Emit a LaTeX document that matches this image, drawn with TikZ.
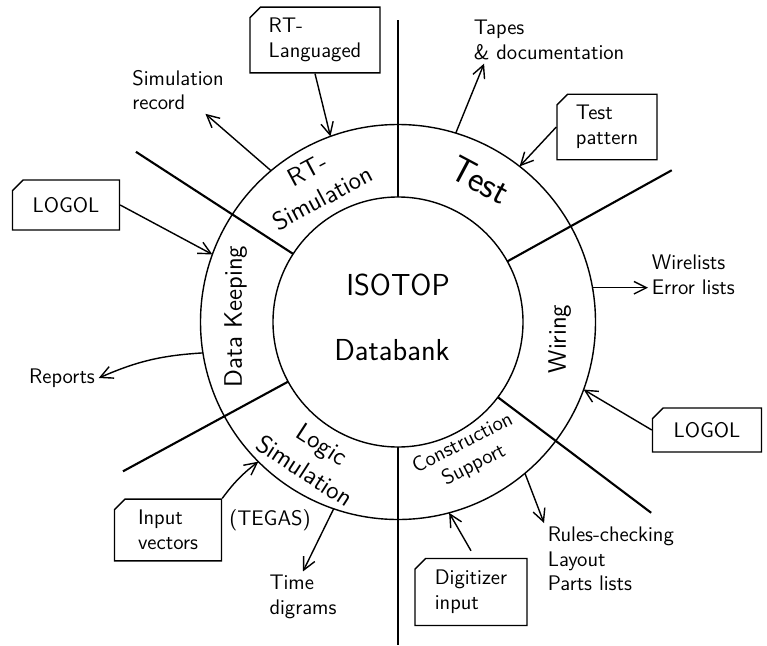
\documentclass[tikz,border=0pt]{standalone}
\usetikzlibrary{arrows.meta, positioning, shapes.misc}

\newcommand{\Rin}{2.5}
\newcommand{\Rout}{3.95}

\begin{document}
\begin{tikzpicture}[
		font=\sffamily,
		% ring and dividers
		ring/.style={thick},
		divider/.style={very thick},
		% texts
		ringlbl/.style={font=\Large\sffamily, align=center},
		centerlbl/.style={font=\LARGE\sffamily},
		outlbl/.style={font=\large\sffamily, align=left, inner sep=2pt},
		% input cards
		card/.style={chamfered rectangle, chamfered rectangle corners=north west, chamfered rectangle sep=3pt, draw, thick, font=\large\sffamily, align=left},
		flow/.style={-{Straight Barb[length=2.5mm, width=2.5mm]}, thick}
		]
		\useasboundingbox (-7.96,-6.46) rectangle (7.38,6.44);
		
		% --- DATABANK RING ---
		\coordinate (ctr) at (0,0);
		\draw[ring] (ctr) circle (\Rin);
		\draw[ring] (ctr) circle (\Rout);
		\foreach \a/\r in {90/6.04, 270/6.46, 147/6.25, 29/6.26, 208.5/6.26, -37/6.34}
			\draw[divider] (\a:\Rin) -- (\a:\r);
		
		\node[centerlbl] (iso) at (0,0.74) {ISOTOP};
		\node[centerlbl] (bank) at (-0.12,-0.56) {Databank};
		
		% ring sections
		\node[ringlbl, rotate=28] (rtsim) at (121:3.22) {RT-\\Simulation};
		\node[ringlbl, font=\huge\sffamily, rotate=-28] (test) at (60:3.28) {Test};
		\node[ringlbl, rotate=90] (wiring) at (-6:3.25) {Wiring};
		\node[ringlbl, font=\large\sffamily, rotate=27] (constr) at (-62:3.0) {Construction\\Support};
		\node[ringlbl, rotate=-33] (logsim) at (-122:3.2) {Logic\\Simulation};
		\node[ringlbl, rotate=90] (datakeep) at (178:3.25) {Data Keeping};
		
		% points on the outer circle
		\coordinate (pRtl) at (110:\Rout);
		\coordinate (pSim) at (130:\Rout);
		\coordinate (pLogL) at (160:\Rout);
		\coordinate (pRep) at (189:\Rout);
		\coordinate (pVec) at (225:\Rout);
		\coordinate (pTime) at (251:\Rout);
		\coordinate (pDig) at (285:\Rout);
		\coordinate (pRules) at (-50:\Rout);
		\coordinate (pLogR) at (-20:\Rout);
		\coordinate (pWire) at (10:\Rout);
		\coordinate (pPat) at (52:\Rout);
		\coordinate (pTapes) at (73:\Rout);
		
		% --- INPUTS AND OUTPUTS ---
		\node[card, minimum width=2.6cm, minimum height=1.12cm] (rtlang) at (-1.66,5.64) {RT-\\Languaged};
		\node[outlbl] (simrec) at (-4.4,4.64) {Simulation\\record};
		\node[card, minimum width=2.14cm, minimum height=1cm] (logolL) at (-6.64,2.34) {LOGOL};
		\node[outlbl] (reports) at (-6.72,-1.12) {Reports};
		\node[card, minimum width=2.14cm, minimum height=1.1cm] (invec) at (-4.6,-4.16) {Input\\vectors};
		\node[outlbl] (tegas) at (-2.56,-3.96) {(TEGAS)};
		\node[outlbl] (timed) at (-1.9,-5.5) {Time\\digrams};
		\node[card, minimum width=2.24cm, minimum height=1.34cm] (digit) at (1.46,-5.4) {Digitizer\\input};
		\node[outlbl, anchor=north west] (rules) at (2.92,-4.02) {Rules-checking\\Layout\\Parts lists};
		\node[card, minimum width=2.18cm, minimum height=0.88cm] (logolR) at (6.18,-2.16) {LOGOL};
		\node[outlbl, anchor=west] (wire) at (5.0,0.94) {Wirelists\\Error lists};
		\node[outlbl, anchor=west] (tapes) at (1.44,5.64) {Tapes\\\& documentation};
		\node[card, minimum width=2cm, minimum height=1.06cm] (tpat) at (4.18,3.9) {Test\\pattern};
		
		\draw[flow] (rtlang.south) -- (pRtl);
		\draw[flow] (pSim) -- (simrec);
		\draw[flow] (logolL.east) -- (pLogL);
		\draw[flow] (pRep) to[bend right=10] (reports.east);
		\draw[flow] (invec.north east) to[bend left=8] (pVec);
		\draw[flow] (pTime) -- (timed.north);
		\draw[flow] ([yshift=4pt]digit.north) -- (pDig);
		\draw[flow] (pRules) -- (rules.north west);
		\draw[flow] (logolR.west) -- (pLogR);
		\draw[flow] (pWire) -- (pWire -| wire.west);
		\draw[flow] (pTapes) -- ([xshift=8pt]tapes.south west);
		\draw[flow] (tpat.west) -- (pPat);
		
	\end{tikzpicture}
\end{document}
